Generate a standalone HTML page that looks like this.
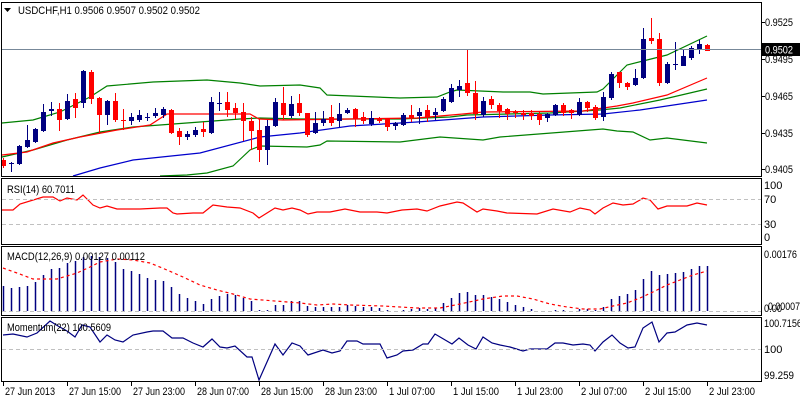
<!DOCTYPE html>
<html><head><meta charset="utf-8"><style>
html,body{margin:0;padding:0;background:#fff;}
svg{display:block;font-family:"Liberation Sans",sans-serif;font-size:11px;}
</style></head><body>
<svg id="s" width="800" height="400" xmlns="http://www.w3.org/2000/svg">
<rect x="0" y="0" width="800" height="400" fill="#fff"/>
<g id="g"></g>
<g fill="none" stroke="#000" stroke-width="1">
<rect x="1.5" y="2.5" width="760" height="174"/>
<rect x="1.5" y="178.5" width="760" height="66"/>
<rect x="1.5" y="246.5" width="760" height="69"/>
<rect x="1.5" y="317.5" width="760" height="64"/>
</g>
<g stroke="#000" stroke-width="1">
<line x1="3.5" y1="382" x2="3.5" y2="386"/><line x1="67.5" y1="382" x2="67.5" y2="386"/><line x1="131.5" y1="382" x2="131.5" y2="386"/><line x1="195.5" y1="382" x2="195.5" y2="386"/><line x1="259.5" y1="382" x2="259.5" y2="386"/><line x1="323.5" y1="382" x2="323.5" y2="386"/><line x1="387.5" y1="382" x2="387.5" y2="386"/><line x1="451.5" y1="382" x2="451.5" y2="386"/><line x1="515.5" y1="382" x2="515.5" y2="386"/><line x1="579.5" y1="382" x2="579.5" y2="386"/><line x1="643.5" y1="382" x2="643.5" y2="386"/><line x1="707.5" y1="382" x2="707.5" y2="386"/>
<line x1="762" y1="22.5" x2="765" y2="22.5"/><line x1="762" y1="59.5" x2="765" y2="59.5"/><line x1="762" y1="96.5" x2="765" y2="96.5"/><line x1="762" y1="133.5" x2="765" y2="133.5"/><line x1="762" y1="169.5" x2="765" y2="169.5"/>
</g>
<g stroke="#c0c0c0" stroke-dasharray="4,3" stroke-width="1">
<line x1="2" y1="199.5" x2="761" y2="199.5"/>
<line x1="2" y1="224.5" x2="761" y2="224.5"/>
<line x1="2" y1="311.5" x2="761" y2="311.5"/>
<line x1="2" y1="349.5" x2="761" y2="349.5"/>
</g>
<line x1="2" y1="49.5" x2="761" y2="49.5" stroke="#778899"/>
<path d="M4 8 L11 8 L7.5 12 Z" fill="#000"/>
<text x="18" y="14" fill="#000" textLength="182" lengthAdjust="spacingAndGlyphs">USDCHF,H1  0.9506 0.9507 0.9502 0.9502</text>
<text x="7" y="193" fill="#000" textLength="68" lengthAdjust="spacingAndGlyphs">RSI(14) 60.7011</text>
<text x="7" y="260" fill="#000" textLength="138" lengthAdjust="spacingAndGlyphs">MACD(12,26,9) 0.00127 0.00112</text>
<text x="7" y="331" fill="#000" textLength="104" lengthAdjust="spacingAndGlyphs">Momentum(22) 100.5609</text>
<g fill="#000">
<text x="765" y="26" textLength="28" lengthAdjust="spacingAndGlyphs">0.9525</text>
<text x="765" y="63" textLength="28" lengthAdjust="spacingAndGlyphs">0.9495</text>
<text x="765" y="100" textLength="28" lengthAdjust="spacingAndGlyphs">0.9465</text>
<text x="765" y="137" textLength="28" lengthAdjust="spacingAndGlyphs">0.9435</text>
<text x="765" y="173" textLength="28" lengthAdjust="spacingAndGlyphs">0.9405</text>
<text x="764" y="189">100</text>
<text x="764" y="203">70</text>
<text x="764" y="228">30</text>
<text x="764" y="241">0</text>
<text x="764" y="258" textLength="33" lengthAdjust="spacingAndGlyphs">0.00176</text>
<text x="764" y="312" textLength="18" lengthAdjust="spacingAndGlyphs">0.00</text>
<text x="768" y="310" textLength="32" lengthAdjust="spacingAndGlyphs">0.00007</text>
<text x="764" y="327" textLength="38" lengthAdjust="spacingAndGlyphs">100.7156</text>
<text x="764" y="353">100</text>
<text x="764" y="379" textLength="30" lengthAdjust="spacingAndGlyphs">99.259</text>
</g>
<rect x="762" y="43" width="38" height="13" fill="#000"/>
<text x="765" y="53.5" fill="#fff" textLength="28" lengthAdjust="spacingAndGlyphs">0.9502</text>
<g fill="#000">
<text x="5" y="395" textLength="50" lengthAdjust="spacingAndGlyphs">27 Jun 2013</text>
<text x="69" y="395" textLength="52" lengthAdjust="spacingAndGlyphs">27 Jun 15:00</text>
<text x="133" y="395" textLength="52" lengthAdjust="spacingAndGlyphs">27 Jun 23:00</text>
<text x="197" y="395" textLength="52" lengthAdjust="spacingAndGlyphs">28 Jun 07:00</text>
<text x="261" y="395" textLength="52" lengthAdjust="spacingAndGlyphs">28 Jun 15:00</text>
<text x="325" y="395" textLength="52" lengthAdjust="spacingAndGlyphs">28 Jun 23:00</text>
<text x="389" y="395" textLength="46" lengthAdjust="spacingAndGlyphs">1 Jul 07:00</text>
<text x="453" y="395" textLength="46" lengthAdjust="spacingAndGlyphs">1 Jul 15:00</text>
<text x="517" y="395" textLength="46" lengthAdjust="spacingAndGlyphs">1 Jul 23:00</text>
<text x="581" y="395" textLength="46" lengthAdjust="spacingAndGlyphs">2 Jul 07:00</text>
<text x="645" y="395" textLength="46" lengthAdjust="spacingAndGlyphs">2 Jul 15:00</text>
<text x="709" y="395" textLength="46" lengthAdjust="spacingAndGlyphs">2 Jul 23:00</text>
</g>
</svg>
<script>
(function(){
var g=document.getElementById('g');var NS='http://www.w3.org/2000/svg';
function el(n,a){var e=document.createElementNS(NS,n);for(var k in a)e.setAttribute(k,a[k]);g.appendChild(e);return e;}
function pl(pts,c,extra){var s=pts.map(function(p){return p[0]+','+p[1];}).join(' ');var a={points:s,fill:'none',stroke:c,'stroke-width':1.2};if(extra)for(var k in extra)a[k]=extra[k];el('polyline',a);}
var C=[[160,166,158,168],[164,163,162,172],[164,146,145,165],[147,140,125,148],[142,129,128,143],[131,112,104,132],[111,109,102,116],[109,120,103,131],[119,101,94,120],[99,108,93,118],
[103,71,70,108],[72,99,70,104],[98,115,97,134],[115,101,100,125],[101,120,93,122],[120,121,109,130],[121,117,113,125],[120,115,110,122],[117,117,113,121],[116,113,108,118],
[115,109,107,118],[110,133,109,134],[131,137,128,145],[137,134,131,140],[135,130,127,137],[129,132,122,137],[133,102,97,134],[103,103,92,111],[102,110,92,117],[108,113,103,119],
[112,121,103,141],[121,131,117,150],[130,150,118,162],[150,126,120,165],[126,102,98,127],[103,115,87,120],[116,104,96,118],[103,113,94,116],[113,135,113,137],[133,123,112,134],
[123,119,111,126],[117,123,105,126],[121,114,103,127],[113,110,108,114],[109,119,108,127],[117,121,112,124],[124,118,111,126],[119,121,117,123],[119,127,118,131],[126,123,122,130],
[125,115,113,126],[115,118,105,122],[116,112,108,124],[110,117,105,122],[115,112,108,120],[111,99,97,112],[102,88,84,103],[90,86,80,97],[83,93,50,96],[93,114,81,120],
[115,101,97,117],[99,105,96,109],[105,111,103,118],[109,114,108,120],[112,113,110,118],[113,115,110,120],[113,116,110,120],[114,120,112,125],[118,114,113,122],[115,105,104,116],
[105,113,103,116],[110,113,109,119],[115,102,98,116],[102,108,101,112],[107,118,105,120],[117,97,92,121],[98,74,72,100],[72,83,72,88],[83,87,82,90],[85,78,69,86],
[78,39,28,79],[38,41,18,44],[39,83,33,86],[83,64,62,84],[65,64,42,70],[66,56,50,66],[58,48,46,60],[50,44,40,54],[45,51,44,51]];
function X(i){return 3+8*i;}
pl([[2,123],[33,120],[60,112],[90,97],[107,86],[153,82],[207,80],[240,83],[260,86],[300,85],[320,88],[327,95],[400,98],[437,97],[450,92],[457,90],[503,92],[530,92],[543,94],[597,92],[603,89],[612,80],[627,65],[647,60],[667,55],[707,36]],'#008000');
pl([[2,157],[33,150],[67,140],[100,132],[133,127],[160,125],[200,122],[240,119],[260,118],[300,119],[400,119],[450,117],[467,115],[550,113],[600,110],[620,108],[660,100],[707,89]],'#008000');
pl([[160,176],[187,175],[207,173],[233,166],[250,150],[260,146],[307,147],[320,145],[327,141],[400,142],[440,137],[483,140],[500,137],[603,129],[617,131],[633,132],[650,140],[667,138],[707,143]],'#008000');
pl([[2,155],[27,152],[53,143],[80,137],[117,130],[150,125],[167,114],[250,114],[259,119],[283,120],[350,119],[417,118],[463,114],[483,112],[583,111],[617,106],[633,103],[667,95],[707,78]],'#ff0000');
pl([[73,176],[100,168],[133,160],[200,153],[260,137],[300,133],[350,126],[417,122],[483,117],[550,115],[603,114],[640,110],[707,100]],'#0000cc');
C.forEach(function(c,i){var x=X(i),col=c[1]>c[0]?'#ff0000':'#000080';
el('line',{x1:x+0.5,y1:c[2],x2:x+0.5,y2:c[3],stroke:col,'stroke-width':1});
var t=Math.min(c[0],c[1]),h=Math.max(1,Math.abs(c[1]-c[0]));el('rect',{x:x-2,y:t,width:5,height:h,fill:col});});
pl([[2,210],[13,210],[20,204],[43,197],[53,197],[60,201],[67,198],[77,200],[83,195],[93,205],[100,208],[107,206],[117,209],[140,209],[160,208],[167,208],[173,213],[177,214],[193,213],[203,213],[213,205],[227,207],[240,208],[253,213],[259,218],[275,208],[283,210],[292,208],[300,210],[308,214],[317,212],[330,212],[345,209],[360,212],[377,212],[387,213],[402,210],[417,209],[427,211],[440,206],[457,202],[463,203],[477,212],[483,209],[497,211],[507,213],[537,214],[553,209],[570,212],[580,208],[590,210],[595,214],[603,208],[613,203],[623,205],[633,204],[640,200],[643,198],[650,200],[658,209],[667,206],[687,206],[697,203],[707,205]],'#ff0000');
var M=[286,288,287,286,282,275,269,268,263,261,257,256,257,258,262,269,271,274,278,280,281,287,294,298,301,304,299,296,294,295,298,301,310,310,305,305,301,301,306,307,307,307,307,305,306,307,307,308,310,311,310,309,308,309,308,303,298,293,292,295,295,297,299,302,305,307,309,311,311,310,310,311,309,309,310,307,299,296,294,290,279,271,275,274,273,272,269,266,266];
M.forEach(function(v,i){var x=X(i)+0.5;if(v<311)el('line',{x1:x,y1:v,x2:x,y2:311,stroke:'#000080','stroke-width':1.5});});
pl([[3,268],[17,273],[33,279],[57,279],[77,273],[90,267],[100,262],[117,259],[133,260],[150,263],[167,270],[183,277],[200,285],[217,290],[233,294],[250,299],[300,303],[317,305],[333,304],[350,305],[383,306],[417,308],[440,308],[460,304],[483,299],[503,296],[517,296],[533,299],[550,304],[567,307],[583,309],[600,309],[613,306],[627,303],[640,298],[653,292],[667,285],[680,280],[693,275],[707,271]],'#ff0000',{'stroke-dasharray':'3,3'});
pl([[3,335],[13,334],[27,337],[37,333],[50,321],[58,326],[67,331],[75,337],[82,325],[90,327],[100,342],[107,335],[115,340],[123,342],[133,335],[147,332],[153,331],[163,331],[172,338],[183,338],[193,343],[203,347],[212,339],[220,347],[227,348],[235,346],[247,357],[252,357],[259,380],[275,344],[283,355],[292,343],[300,346],[308,355],[323,350],[332,353],[340,351],[347,341],[357,341],[363,344],[380,344],[387,358],[397,355],[403,351],[413,350],[423,344],[428,344],[435,334],[452,344],[459,338],[468,345],[476,349],[483,337],[492,343],[500,345],[510,347],[523,351],[530,349],[547,349],[555,343],[563,343],[573,345],[583,344],[590,345],[595,351],[603,342],[612,335],[620,343],[628,348],[635,347],[643,328],[652,322],[659,342],[667,333],[675,332],[687,325],[697,323],[707,325]],'#000080');
})();
</script>
</body></html>
